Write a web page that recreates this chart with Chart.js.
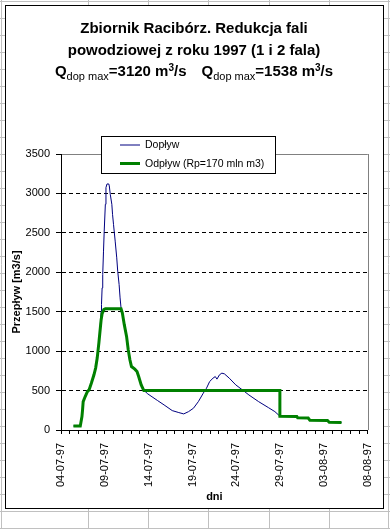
<!DOCTYPE html>
<html>
<head>
<meta charset="utf-8">
<script src="https://cdn.jsdelivr.net/npm/chart.js@4"></script>
<style>
  html, body { margin: 0; padding: 0; background: #fff; }
  #wrap { position: relative; width: 390px; height: 529px; }
</style>
</head>
<body>
<div id="wrap"><canvas id="myChart" width="390" height="529"></canvas></div>
<script>
// dni liczone od 04-07-97
const inflowDays = [1.42, 2.2, 2.39, 2.46, 2.53, 2.76, 3.01, 3.2, 3.46, 3.76, 3.95, 4.13, 4.32, 4.43, 4.52, 4.58, 4.62, 4.69, 4.76, 4.85, 4.93, 5.06, 5.13, 5.25, 5.45, 5.51, 5.62, 5.8, 5.88, 5.99, 6.18, 6.36, 6.47, 6.63, 6.74, 6.85, 7.0, 7.22, 7.48, 7.67, 7.86, 8.04, 8.42, 8.67, 8.86, 9.15, 9.4, 9.9, 11.02, 11.76, 12.69, 13.44, 14.0, 14.55, 15.11, 15.67, 16.23, 16.6, 16.96, 17.34, 17.6, 17.79, 18.08, 18.35, 18.64, 19.2, 19.94, 20.69, 21.43, 22.54, 23.66, 24.4, 24.97, 26.9, 27.0, 28.2, 28.4, 30.4, 30.6, 32.0]
const inflowValues = [51, 51, 170, 254, 360, 424, 487, 509, 594, 700, 785, 912, 1103, 1230, 1400, 1505, 1590, 1802, 1972, 2268, 2522, 2862, 3074, 3120, 3120, 3095, 2989, 2862, 2735, 2608, 2395, 2183, 2014, 1844, 1675, 1548, 1484, 1336, 1187, 1018, 890, 805, 772, 742, 678, 572, 509, 458, 373, 318, 246, 221, 204, 233, 276, 360, 467, 530, 615, 657, 678, 645, 700, 721, 712, 657, 572, 509, 445, 360, 284, 233, 175, 172, 155, 152, 122, 120, 98, 95]

const outflowDays = [1.42, 2.2, 2.39, 2.46, 2.53, 2.76, 3.01, 3.2, 3.46, 3.76, 3.95, 4.13, 4.32, 4.43, 4.58, 4.69, 4.88, 5.07, 6.85, 7.0, 7.22, 7.48, 7.67, 7.86, 8.04, 8.42, 8.67, 8.86, 9.15, 9.45, 24.97, 24.97, 26.9, 27.0, 28.2, 28.4, 30.4, 30.6, 32.0]
const outflowValues = [51, 51, 170, 254, 360, 424, 487, 509, 594, 700, 785, 912, 1103, 1230, 1399, 1475, 1526, 1538, 1538, 1484, 1336, 1187, 1018, 890, 805, 772, 742, 678, 572, 500, 500, 175, 172, 155, 152, 122, 120, 98, 95]

const titleLines = ['Zbiornik Racibórz. Redukcja fali', 'powodziowej z roku 1997 (1 i 2 fala)']
const maxInflow = 3120
const maxOutflow = 1538

const FONT = '"Liberation Sans", Arial, sans-serif'

function toPoints(xs, ys) {
  return xs.map((x, i) => ({ x: x, y: ys[i] }))
}

function dayLabel(v) {
  const d = new Date(1997, 6, 4 + Math.round(v))
  const p = n => String(n).padStart(2, '0')
  return p(d.getDate()) + '-' + p(d.getMonth() + 1) + '-' + p(d.getFullYear() % 100)
}

// tlo arkusza + ramka wykresu + tytul
const sheetPlugin = {
  id: 'sheet',
  beforeDraw(chart) {
    const ctx = chart.ctx
    ctx.save()
    ctx.fillStyle = '#fff'
    ctx.fillRect(0, 0, chart.width, chart.height)
    ctx.strokeStyle = '#c0c0c0'
    ctx.lineWidth = 1
    ctx.beginPath()
    for (let y = 1; y < chart.height; y += 17) {
      ctx.moveTo(0, y + 0.5); ctx.lineTo(chart.width, y + 0.5)
    }
    ;[1, 88, 148, 208, 269, 329, 388].forEach(x => {
      ctx.moveTo(x + 0.5, 0); ctx.lineTo(x + 0.5, chart.height)
    })
    ctx.stroke()
    ctx.fillStyle = '#fff'
    ctx.fillRect(6, 6, 377, 502)
    ctx.strokeStyle = '#000'
    ctx.strokeRect(5.5, 5.5, 378, 503)

    // tytul
    ctx.fillStyle = '#000'
    ctx.textAlign = 'center'
    ctx.textBaseline = 'alphabetic'
    ctx.font = 'bold 15px ' + FONT
    ctx.fillText(titleLines[0], 194, 33)
    ctx.fillText(titleLines[1], 194, 54.5)

    const main = 'bold 15px ' + FONT
    const sub = '11px ' + FONT
    const sup = 'bold 10px ' + FONT
    const parts = [
      ['Q', main, 0], ['dop max', sub, 4.5], ['=' + maxInflow + ' m', main, 0], ['3', sup, -5], ['/s', main, 0],
      [null, null, 15],
      ['Q', main, 0], ['dop max', sub, 4.5], ['=' + maxOutflow + ' m', main, 0], ['3', sup, -5], ['/s', main, 0]
    ]
    let total = 0
    parts.forEach(p => {
      if (p[0] === null) { total += p[2]; return }
      ctx.font = p[1]; total += ctx.measureText(p[0]).width
    })
    let x = 194 - total / 2
    ctx.textAlign = 'left'
    parts.forEach(p => {
      if (p[0] === null) { x += p[2]; return }
      ctx.font = p[1]
      ctx.fillText(p[0], x, 75.5 + p[2])
      x += ctx.measureText(p[0]).width
    })
    ctx.restore()
  },
  afterDraw(chart) {
    const ctx = chart.ctx
    const a = chart.chartArea
    ctx.save()
    // prawa krawedz obszaru kreslenia
    ctx.strokeStyle = '#808080'
    ctx.lineWidth = 1
    ctx.beginPath()
    ctx.moveTo(Math.round(a.right) + 0.5, a.top)
    ctx.lineTo(Math.round(a.right) + 0.5, a.bottom)
    ctx.stroke()

    // legenda
    ctx.fillStyle = '#fff'
    ctx.fillRect(101.5, 136.5, 174, 37)
    ctx.strokeStyle = '#000'
    ctx.strokeRect(101.5, 136.5, 174, 37)
    const rows = [145, 163.5]
    chart.data.datasets.forEach((ds, i) => {
      ctx.strokeStyle = ds.borderColor
      ctx.lineWidth = ds.borderWidth
      ctx.beginPath()
      ctx.moveTo(120, rows[i]); ctx.lineTo(140, rows[i])
      ctx.stroke()
      ctx.fillStyle = '#000'
      ctx.font = '10.5px ' + FONT
      ctx.textAlign = 'left'
      ctx.textBaseline = 'middle'
      ctx.fillText(ds.label, 145, rows[i] + 0.5)
    })
    ctx.restore()
  }
}

new Chart(document.getElementById('myChart').getContext('2d'), {
  type: 'line',
  data: {
    datasets: [
      {
        label: 'Dopływ',
        data: toPoints(inflowDays, inflowValues),
        borderColor: '#000080',
        borderWidth: 1,
        pointRadius: 0,
        tension: 0,
        order: 1
      },
      {
        label: 'Odpływ (Rp=170 mln m3)',
        data: toPoints(outflowDays, outflowValues),
        borderColor: '#008000',
        borderWidth: 3,
        pointRadius: 0,
        tension: 0,
        order: 0
      }
    ]
  },
  plugins: [sheetPlugin],
  options: {
    responsive: false,
    animation: false,
    layout: { padding: { left: 6, top: 154, right: 15, bottom: 21 } },
    plugins: {
      legend: { display: false },
      title: { display: false },
      tooltip: { enabled: false }
    },
    scales: {
      x: {
        type: 'linear',
        min: 0,
        max: 35,
        afterFit: s => { s.height = 78 },
        ticks: {
          stepSize: 1,
          autoSkip: false,
          maxRotation: 90,
          minRotation: 90,
          padding: 9,
          color: '#000',
          font: { family: FONT, size: 11 },
          callback: v => (v % 5 === 0 ? dayLabel(v) : '')
        },
        grid: { drawOnChartArea: false, tickLength: 4, tickColor: '#000' },
        border: { color: '#000', width: 1 },
        title: {
          display: true,
          text: 'dni',
          color: '#000',
          font: { family: FONT, size: 11, weight: 'bold' },
          padding: { top: 0, bottom: 4 }
        }
      },
      y: {
        min: 0,
        max: 3500,
        afterFit: s => { s.width = 55 },
        ticks: {
          stepSize: 500,
          padding: 6,
          color: '#000',
          font: { family: FONT, size: 11 },
          callback: v => String(v)
        },
        grid: {
          color: c => (c.tick && c.tick.value === 3500 ? '#808080' : '#000'),
          tickLength: 5,
          tickColor: '#000'
        },
        border: {
          color: '#000',
          width: 1,
          dash: c => (c.tick && c.tick.value !== 3500 ? [4, 3] : [])
        },
        title: {
          display: true,
          text: 'Przepływ [m3/s]',
          color: '#000',
          font: { family: FONT, size: 11, weight: 'bold' },
          padding: { top: 4, bottom: 0 }
        }
      }
    }
  }
})
</script>
</body>
</html>
